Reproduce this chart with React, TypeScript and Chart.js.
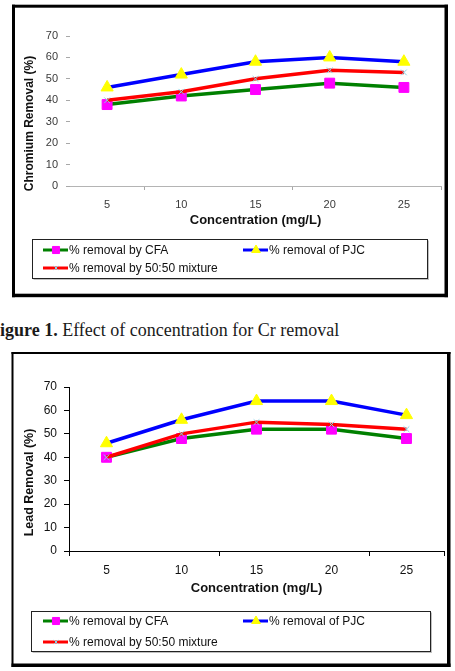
import { useEffect, useRef } from 'react';
import { Chart, registerables } from 'chart.js';

Chart.register(...registerables);

// ---- data -------------------------------------------------------------
const concentrationLabels = ['5', '10', '15', '20', '25'];
const seriesNames = ['% removal by CFA', '% removal of PJC', '% removal by 50:50 mixture'];

const chromiumCFA = [38, 42, 45, 48, 46];
const chromiumPJC = [46, 52, 58, 60, 58];
const chromiumMixture = [40, 44, 50, 54, 53];

const leadCFA = [40, 48, 52, 52, 48];
const leadPJC = [46, 56, 64, 64, 58];
const leadMixture = [40, 50, 55, 54, 52];

const removalMin = 0;
const removalMax = 70;
const removalStep = 10;

// ---- styling ----------------------------------------------------------
const SANS = '"Liberation Sans", Arial, Helvetica, sans-serif';
const SERIF = '"Liberation Serif", "Times New Roman", serif';

const seriesStyles = [
  { line: '#008000', marker: 'rect', radius: 7, fill: '#FF00FF', stroke: '#FF00FF', strokeWidth: 1, order: 3 },
  { line: '#0000FF', marker: 'triangle', radius: 7, fill: '#FFFF00', stroke: '#FFFF00', strokeWidth: 1, order: 2 },
  { line: '#FF0000', marker: 'crossRot', radius: 4, fill: 'rgba(0,0,0,0)', stroke: '#86d3e6', strokeWidth: 1, order: 1 },
];

type Panel = {
  top: number;
  height: number;
  yTitle: string;
  yTitleSize: number;
  yTitleX: number;
  yTitleShift: number;
  series: number[][];
  padding: { left: number; right: number; top: number; bottom: number };
  yWidth: number;
  xHeight: number;
  tickFontSize: number;
  yTickLen: number;
  yTickPad: number;
  xTickLen: number;
  xTickPad: number;
  axisColor: string;
  tickMarkColor: string;
  labelColor: string;
  showYAxisLine: boolean;
  xMarkIdx: number[];
  frame: { x: number; y: number; w: number; h: number; thin: number; thick: number };
  legend: { x: number; y: number; w: number; h: number; row1: number; row2: number; col1: number; col2: number };
};

const chromiumPanel: Panel = {
  top: 0,
  height: 305,
  yTitle: 'Chromium Removal (%)',
  yTitleSize: 12,
  yTitleX: 30,
  yTitleShift: 12.5,
  series: [chromiumCFA, chromiumPJC, chromiumMixture],
  padding: { left: 20, right: 14, top: 36, bottom: 77 },
  yWidth: 50,
  xHeight: 42,
  tickFontSize: 11,
  yTickLen: 4,
  yTickPad: 8,
  xTickLen: 4,
  xTickPad: 8,
  axisColor: '#b4b4b4',
  tickMarkColor: '#a8a8a8',
  labelColor: '#3a3a3a',
  showYAxisLine: false,
  xMarkIdx: [1, 3, 5],
  frame: { x: 12, y: 4.7, w: 436, h: 292.5, thin: 3, thick: 3.5 },
  legend: { x: 32.5, y: 239.5, w: 395, h: 39, row1: 250, row2: 268, col1: 43, col2: 243 },
};

const leadPanel: Panel = {
  top: 345,
  height: 326,
  yTitle: 'Lead Removal (%)',
  yTitleSize: 12.5,
  yTitleX: 30,
  yTitleShift: 13.5,
  series: [leadCFA, leadPJC, leadMixture],
  padding: { left: 20, right: 11, top: 42, bottom: 75 },
  yWidth: 49,
  xHeight: 45,
  tickFontSize: 12,
  yTickLen: 5,
  yTickPad: 7,
  xTickLen: 5,
  xTickPad: 7,
  axisColor: '#000000',
  tickMarkColor: '#000000',
  labelColor: '#111111',
  showYAxisLine: true,
  xMarkIdx: [0, 2, 4, 5],
  frame: { x: 11.5, y: 7, w: 439, h: 315, thin: 2, thick: 3.5 },
  legend: { x: 31.5, y: 266.5, w: 399, h: 40, row1: 276, row2: 297, col1: 43, col2: 243 },
};

// ---- drawing helpers --------------------------------------------------
function drawMarker(
  ctx: CanvasRenderingContext2D,
  style: string,
  x: number,
  y: number,
  r: number,
  fill: string,
  stroke: string,
  lw: number
) {
  ctx.save();
  ctx.fillStyle = fill;
  ctx.strokeStyle = stroke;
  ctx.lineWidth = lw;
  ctx.beginPath();
  if (style === 'rect') {
    const s = r * Math.SQRT1_2;
    ctx.rect(x - s, y - s, 2 * s, 2 * s);
    ctx.fill();
    ctx.stroke();
  } else if (style === 'triangle') {
    ctx.moveTo(x, y - r);
    ctx.lineTo(x + r * 0.866, y + r / 2);
    ctx.lineTo(x - r * 0.866, y + r / 2);
    ctx.closePath();
    ctx.fill();
    ctx.stroke();
  } else {
    const s = r * Math.SQRT1_2;
    ctx.moveTo(x - s, y - s);
    ctx.lineTo(x + s, y + s);
    ctx.moveTo(x + s, y - s);
    ctx.lineTo(x - s, y + s);
    ctx.stroke();
  }
  ctx.restore();
}

function decorations(panel: Panel) {
  return {
    id: 'panelDecorations',
    afterDraw(chart: any) {
      const ctx: CanvasRenderingContext2D = chart.ctx;
      const area = chart.chartArea;

      // rotated value-axis title
      ctx.save();
      ctx.translate(panel.yTitleX, (area.top + area.bottom) / 2 + panel.yTitleShift);
      ctx.rotate(-Math.PI / 2);
      ctx.font = `bold ${panel.yTitleSize}px ${SANS}`;
      ctx.fillStyle = '#111';
      ctx.textAlign = 'center';
      ctx.textBaseline = 'middle';
      ctx.fillText(panel.yTitle, 0, 0);
      ctx.restore();

      // boxed legend, two columns
      const lg = panel.legend;
      ctx.save();
      ctx.strokeStyle = '#222';
      ctx.lineWidth = 1;
      ctx.strokeRect(lg.x, lg.y, lg.w, lg.h);
      ctx.strokeStyle = 'rgba(0,0,0,0.25)';
      ctx.beginPath();
      ctx.moveTo(lg.x + 1, lg.y + lg.h + 1);
      ctx.lineTo(lg.x + lg.w + 1, lg.y + lg.h + 1);
      ctx.lineTo(lg.x + lg.w + 1, lg.y + 1);
      ctx.stroke();
      const slots = [
        [lg.col1, lg.row1],
        [lg.col2, lg.row1],
        [lg.col1, lg.row2],
      ];
      chart.data.datasets.forEach((ds: any, i: number) => {
        const [sx, sy] = slots[i];
        ctx.strokeStyle = ds.borderColor;
        ctx.lineWidth = 3;
        ctx.beginPath();
        ctx.moveTo(sx, sy);
        ctx.lineTo(sx + 25, sy);
        ctx.stroke();
        const st = seriesStyles[i];
        drawMarker(ctx, st.marker, sx + 13, sy, st.marker === 'crossRot' ? 3 : 5, st.fill, st.stroke, st.strokeWidth);
        ctx.font = `12px ${SANS}`;
        ctx.fillStyle = '#111';
        ctx.textAlign = 'left';
        ctx.textBaseline = 'middle';
        ctx.fillText(ds.label, sx + 26, sy + 0.5);
      });
      ctx.restore();

      // outer frame of the panel
      const f = panel.frame;
      ctx.save();
      ctx.fillStyle = '#000';
      ctx.fillRect(f.x, f.y, f.w, f.thin);
      ctx.fillRect(f.x, f.y, f.thin, f.h);
      ctx.fillRect(f.x + f.w - f.thick, f.y, f.thick, f.h);
      ctx.fillRect(f.x, f.y + f.h - f.thick, f.w, f.thick);
      ctx.restore();
    },
  };
}

function RemovalChart({ panel }: { panel: Panel }) {
  const ref = useRef<HTMLCanvasElement>(null);

  useEffect(() => {
    if (!ref.current) return;
    const hidden = 'rgba(0,0,0,0)';
    const chart = new Chart(ref.current, {
      type: 'line',
      data: {
        labels: concentrationLabels,
        datasets: panel.series.map((values, i) => {
          const st = seriesStyles[i];
          return {
            label: seriesNames[i],
            data: values,
            order: st.order,
            borderColor: st.line,
            backgroundColor: st.line,
            borderWidth: 3.5,
            tension: 0,
            fill: false,
            pointStyle: st.marker as any,
            pointRadius: st.radius,
            pointBackgroundColor: st.fill,
            pointBorderColor: st.stroke,
            pointBorderWidth: st.strokeWidth,
          };
        }),
      },
      options: {
        responsive: false,
        animation: false,
        devicePixelRatio: 1,
        layout: { padding: panel.padding },
        plugins: {
          legend: { display: false },
          tooltip: { enabled: false },
          title: { display: false },
        },
        scales: {
          x: {
            type: 'category',
            offset: true,
            grid: {
              display: true,
              offset: true,
              drawOnChartArea: false,
              drawTicks: true,
              tickLength: panel.xTickLen,
              tickWidth: 1,
              color: panel.tickMarkColor,
              tickColor: (c: any) => {
                const idx = c.type === 'tick' ? c.index : concentrationLabels.length;
                return panel.xMarkIdx.includes(idx) ? panel.tickMarkColor : hidden;
              },
            },
            border: { display: true, color: panel.axisColor, width: 1 },
            ticks: {
              color: panel.labelColor,
              font: { family: SANS, size: panel.tickFontSize },
              padding: panel.xTickPad,
              maxRotation: 0,
              autoSkip: false,
            },
            title: {
              display: true,
              text: 'Concentration (mg/L)',
              color: '#111',
              font: { family: SANS, size: 13, weight: 'bold' },
              padding: 0,
            },
            afterFit: (s: any) => {
              s.height = panel.xHeight;
            },
          },
          y: {
            min: removalMin,
            max: removalMax,
            grid: {
              display: true,
              drawOnChartArea: false,
              drawTicks: true,
              tickLength: panel.yTickLen,
              tickWidth: 1,
              color: panel.tickMarkColor,
              tickColor: panel.tickMarkColor,
            },
            border: { display: panel.showYAxisLine, color: panel.axisColor, width: 1 },
            ticks: {
              stepSize: removalStep,
              color: panel.labelColor,
              font: { family: SANS, size: panel.tickFontSize },
              padding: panel.yTickPad,
            },
            afterFit: (s: any) => {
              s.width = panel.yWidth;
            },
          },
        },
      } as any,
      plugins: [decorations(panel)],
    });
    return () => chart.destroy();
  }, [panel]);

  return (
    <canvas
      ref={ref}
      width={455}
      height={panel.height}
      style={{ position: 'absolute', left: 0, top: panel.top, width: 455, height: panel.height }}
    />
  );
}

export default function App() {
  return (
    <div
      style={{
        position: 'absolute',
        left: 0,
        top: 0,
        width: 455,
        height: 671,
        overflow: 'hidden',
        background: '#ffffff',
      }}
    >
      <RemovalChart panel={chromiumPanel} />
      <div
        style={{
          position: 'absolute',
          left: -11,
          top: 320,
          fontFamily: SERIF,
          fontSize: 18,
          lineHeight: '20px',
          whiteSpace: 'nowrap',
          color: '#1a1a1a',
        }}
      >
        <b>Figure 1.</b> Effect of concentration for Cr removal
      </div>
      <RemovalChart panel={leadPanel} />
    </div>
  );
}
